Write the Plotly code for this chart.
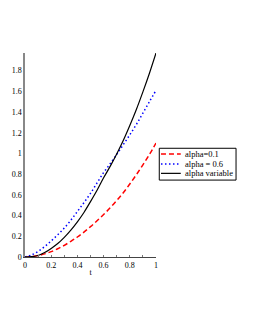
import plotly.graph_objects as go

t = [0, 0.05, 0.1, 0.15, 0.2, 0.25, 0.3, 0.35, 0.4, 0.45, 0.5,
     0.55, 0.6, 0.65, 0.7, 0.75, 0.8, 0.85, 0.9, 0.95, 1.0]
alpha_01 = [0, 0.004, 0.014, 0.03, 0.052, 0.08, 0.113, 0.151, 0.193, 0.24, 0.293,
            0.35, 0.41, 0.475, 0.545, 0.62, 0.705, 0.795, 0.89, 0.99, 1.1]
alpha_06 = [0, 0.02, 0.055, 0.1, 0.155, 0.215, 0.28, 0.355, 0.44, 0.525, 0.615,
            0.715, 0.815, 0.9, 0.99, 1.085, 1.18, 1.28, 1.39, 1.5, 1.61]
alpha_var = [0, 0.003, 0.015, 0.043, 0.083, 0.13, 0.19, 0.26, 0.34, 0.43, 0.535,
             0.645, 0.765, 0.875, 0.995, 1.125, 1.27, 1.425, 1.595, 1.775, 1.97]

labels = ["alpha=0.1", "alpha = 0.6", "alpha variable"]
colors = ["#ff0000", "#0000ff", "#000000"]
dashes = ["5px,3px", "1.5px,2.5px", "solid"]
widths = [1.5, 1.5, 1.2]
series = [alpha_01, alpha_06, alpha_var]

xticks = [0, 0.2, 0.4, 0.6, 0.8, 1]
xticklabels = ["0", "0.2", "0.4", "0.6", "0.8", "1"]
yticks = [0, 0.2, 0.4, 0.6, 0.8, 1, 1.2, 1.4, 1.6, 1.8]
yticklabels = ["0", "0.2", "0.4", "0.6", "0.8", "1", "1.2", "1.4", "1.6", "1.8"]

font = "Liberation Serif, Times New Roman, serif"

fig = go.Figure()
for name, ys, c, d, w in zip(labels, series, colors, dashes, widths):
    fig.add_trace(go.Scatter(x=t, y=ys, mode="lines", name=name, showlegend=False,
                             line=dict(color=c, width=w, dash=d, shape="spline")))

# manual legend (paper coordinates relative to the plot area)
shapes = [dict(type="rect", xref="paper", yref="paper",
               x0=1.025, x1=1.611, y0=0.377, y1=0.533,
               line=dict(color="black", width=1), fillcolor="white")]
annotations = []
row_y = [0.505, 0.456, 0.41]
for name, c, d, w, yy in zip(labels, colors, dashes, widths, row_y):
    shapes.append(dict(type="line", xref="paper", yref="paper",
                       x0=1.038, x1=1.189, y0=yy, y1=yy,
                       line=dict(color=c, width=w, dash=d)))
    annotations.append(dict(xref="paper", yref="paper", x=1.203, y=yy,
                            xanchor="left", yanchor="middle", text=name,
                            showarrow=False,
                            font=dict(family=font, size=8.5, color="black")))

fig.update_layout(
    width=255, height=330,
    margin=dict(l=17, r=107, t=45, b=81),
    paper_bgcolor="white", plot_bgcolor="white",
    font=dict(family=font, size=8, color="black"),
    showlegend=False,
    shapes=shapes, annotations=annotations,
)
fig.update_xaxes(range=[0, 1], tickvals=xticks, ticktext=xticklabels,
                 showgrid=False, zeroline=False, showline=True,
                 linecolor="#444444", linewidth=1, automargin=False,
                 ticks="inside", ticklen=2, tickcolor="#777777", tickwidth=1,
                 minor=dict(dtick=0.1, tick0=0, ticks="inside", ticklen=2,
                            tickcolor="#777777", tickwidth=1, showgrid=False),
                 tickfont=dict(family=font, size=8, color="black"),
                 title=dict(text="t", font=dict(family=font, size=8, color="black"),
                            standoff=0))
fig.update_yaxes(range=[0, 1.97], tickvals=yticks, ticktext=yticklabels,
                 showgrid=False, zeroline=False, showline=True,
                 linecolor="#888888", linewidth=1.5, ticks="", automargin=False,
                 tickfont=dict(family=font, size=8, color="black"))

fig.write_html("out.html")
